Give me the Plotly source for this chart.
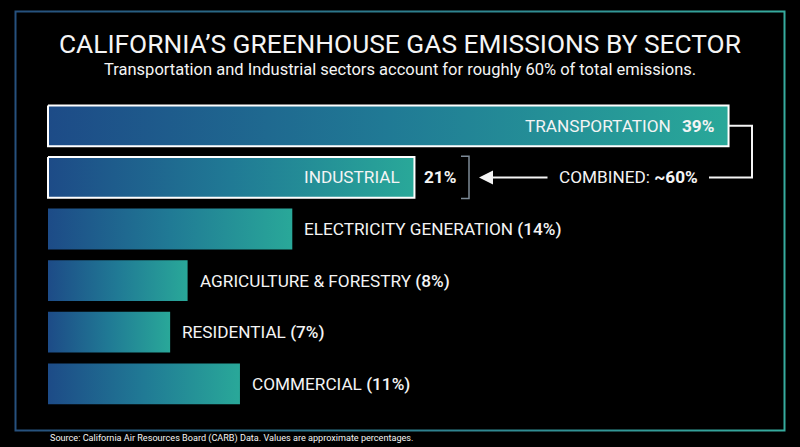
import plotly.graph_objects as go

# ---------------- data ----------------
sectors = ["TRANSPORTATION", "INDUSTRIAL", "ELECTRICITY GENERATION",
           "AGRICULTURE & FORESTRY", "RESIDENTIAL", "COMMERCIAL"]
shares = [39, 21, 14, 8, 7, 11]
highlighted = [True, True, False, False, False, False]
combined_label = "~60%"

title = "CALIFORNIA\u2019S GREENHOUSE GAS EMISSIONS BY SECTOR"
subtitle = "Transportation and Industrial sectors account for roughly 60% of total emissions."
source = "Source: California Air Resources Board (CARB) Data. Values are approximate percentages."

# ---------------- layout geometry ----------------
W, H = 800, 447
X0_PX, PX_PER_PCT = 48.0, 17.45      # x pixel of 0 % and pixels per %
Y0_PX, PX_PER_ROW = 125.8, 51.6      # y pixel of first row and pixels per row


def X(px):
    return (px - X0_PX) / PX_PER_PCT


def Y(py):
    return (py - Y0_PX) / PX_PER_ROW


FONT = "Roboto, 'Liberation Sans', Arial, sans-serif"
WHITE = "#f4f4f4"
BAR_SCALE = [[0, "#1d4b87"], [0.5, "#207a95"], [1, "#29a899"]]
HALF = 0.395

fig = go.Figure()

# gradient frame (ring polygon)
L, T, R, B = 14.5, 10.5, 785.5, 431.5
l, t, r, b = 16.5, 12.5, 783.5, 429.5
fx = [L, R, R, L, L, l, l, r, r, l, L]
fy = [T, T, B, B, T, t, b, b, t, t, T]
fig.add_trace(go.Scatter(
    x=[X(v) for v in fx], y=[Y(v) for v in fy], mode="lines", fill="toself",
    line=dict(width=0), hoverinfo="skip", showlegend=False,
    fillgradient=dict(type="horizontal", start=X(L), stop=X(R),
                      colorscale=[[0, "#26507d"], [1, "#36ab9e"]]),
))

# bars
for i, (name, v, hi) in enumerate(zip(sectors, shares, highlighted)):
    fig.add_trace(go.Scatter(
        x=[0, v, v, 0, 0], y=[i - HALF, i - HALF, i + HALF, i + HALF, i - HALF],
        mode="lines", fill="toself", hoverinfo="skip", showlegend=False,
        line=dict(color="white" if hi else "rgba(0,0,0,0)", width=2 if hi else 0),
        fillgradient=dict(type="horizontal", colorscale=BAR_SCALE),
    ))

annotations = []


def txt(x, y, text, size, xanchor="center", xshift=0, bold=False, color=WHITE):
    annotations.append(dict(
        x=x, y=y, xref="x", yref="y", text=(f"<b>{text}</b>" if bold else text),
        showarrow=False, xanchor=xanchor, yanchor="middle", xshift=xshift,
        font=dict(family=FONT, size=size, color=color)))


# title / subtitle / source
txt(X(400), Y(44), title, 26.3)
txt(X(400), Y(69), subtitle, 16.5)
txt(X(48), Y(438.5), source, 9.1, xanchor="left")

# labels
LBL = 17.2
# row 0: inside bar
txt(shares[0], 0, f"{shares[0]}%", LBL, xanchor="right", xshift=-13, bold=True)
txt(shares[0], 0, sectors[0], LBL, xanchor="right", xshift=-56)
# row 1: inside + outside
txt(shares[1], 1, sectors[1], LBL, xanchor="right", xshift=-12)
txt(shares[1], 1, f"{shares[1]}%", LBL, xanchor="left", xshift=8, bold=True)
# others outside
for i in range(2, len(sectors)):
    txt(shares[i], i,
        f"{sectors[i]} <span style='font-weight:500'>({shares[i]}%)</span>",
        LBL, xanchor="left", xshift=10)

# combined label
annotations.append(dict(
    x=X(628.5), y=1, xref="x", yref="y", showarrow=False,
    text=f"COMBINED: <b>{combined_label}</b>",
    font=dict(family=FONT, size=LBL, color=WHITE)))

# arrow
annotations.append(dict(
    x=X(479), y=1, xref="x", yref="y", ax=X(549), ay=1, axref="x", ayref="y",
    text="", showarrow=True, arrowhead=2, arrowsize=1.4, arrowwidth=2,
    arrowcolor=WHITE, standoff=0))

shapes = []
# connector from transportation bar to combined label
path = (f"M {shares[0]},{0} L {X(752)},{0} L {X(752)},{1} L {X(709)},{1}")
shapes.append(dict(type="path", path=path, xref="x", yref="y",
                   line=dict(color=WHITE, width=2)))
# bracket beside industrial value
bpath = (f"M {X(461)},{1 - 0.41} L {X(469)},{1 - 0.41} "
         f"L {X(469)},{1 + 0.41} L {X(461)},{1 + 0.41}")
shapes.append(dict(type="path", path=bpath, xref="x", yref="y",
                   line=dict(color="#7d8a97", width=1.5)))

fig.update_layout(
    width=W, height=H, margin=dict(l=0, r=0, t=0, b=0),
    paper_bgcolor="#000000", plot_bgcolor="#000000",
    xaxis=dict(range=[X(0), X(W)], visible=False, fixedrange=True),
    yaxis=dict(range=[Y(H), Y(0)], visible=False, fixedrange=True),
    annotations=annotations, shapes=shapes, showlegend=False,
)

fig.write_html(
    "out.html",
    config={"displayModeBar": False},
    post_script=("document.body.style.margin='0';"
                 "document.body.style.background='#000';"
                 "document.body.style.overflow='hidden';"),
)
